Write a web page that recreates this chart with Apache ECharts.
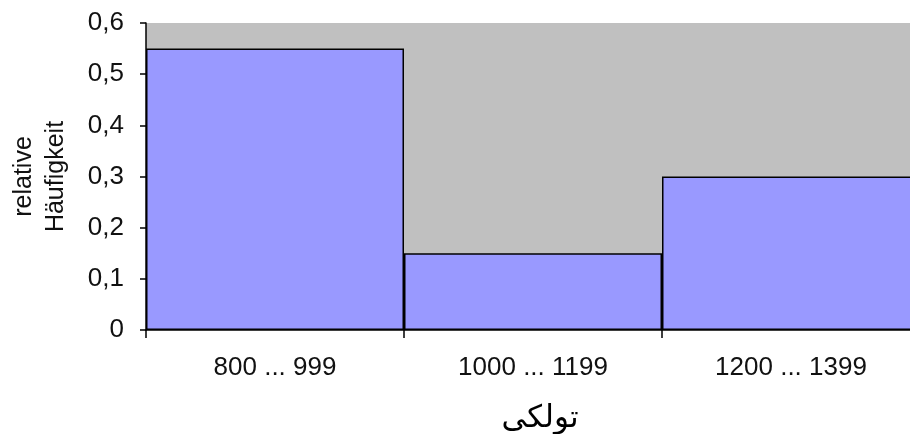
<!DOCTYPE html>
<html>
<head>
<meta charset="utf-8">
<script src="https://cdn.jsdelivr.net/npm/echarts@6/dist/echarts.min.js"></script>
<style>
  html, body { margin: 0; padding: 0; background: #ffffff; }
  #chart { width: 910px; height: 434px; }
</style>
</head>
<body>
<div id="chart"></div>
<script>
// Class intervals and their relative frequencies
const categories = ['800 ... 999', '1000 ... 1199', '1200 ... 1399'];
const relativeFrequency = [0.55, 0.15, 0.3];
const yTicks = { min: 0, max: 0.6, interval: 0.1 };

const labelFont = "'Liberation Sans', Arial, sans-serif";

const chart = echarts.init(document.getElementById('chart'));
chart.setOption({
  animation: false,
  backgroundColor: '#ffffff',
  grid: {
    left: 146, top: 23, width: 774, height: 307,
    outerBoundsMode: 'none',
    containLabel: false,
    show: true, backgroundColor: '#C0C0C0', borderWidth: 0
  },
  xAxis: {
    type: 'category',
    data: categories,
    boundaryGap: true,
    axisLine: { show: true, lineStyle: { color: '#000', width: 1.5 } },
    axisTick: { show: true, length: 8, lineStyle: { color: '#000', width: 1.5 } },
    axisLabel: {
      margin: 25, fontSize: 26, color: '#111', fontFamily: labelFont
    },
    name: 'تولکی',
    nameLocation: 'middle',
    nameGap: 73,
    nameTextStyle: {
      fontSize: 31, color: '#000',
      fontFamily: "'DejaVu Sans', serif",
      padding: [0, 0, 0, 14]
    },
    splitLine: { show: false }
  },
  yAxis: {
    type: 'value',
    min: yTicks.min, max: yTicks.max, interval: yTicks.interval,
    axisLine: { show: true, lineStyle: { color: '#000', width: 1.5 } },
    axisTick: { show: true, length: 6, lineStyle: { color: '#000', width: 1.5 } },
    axisLabel: {
      margin: 22, fontSize: 26, color: '#111', fontFamily: labelFont,
      formatter: v => v === 0 ? '0' : v.toFixed(1).replace('.', ',')
    },
    splitLine: { show: false },
    name: 'relative\nHäufigkeit',
    nameLocation: 'middle',
    nameRotate: 90,
    nameGap: 74,
    nameTextStyle: {
      fontSize: 25, color: '#111', fontFamily: labelFont, lineHeight: 32
    }
  },
  series: [{
    type: 'bar',
    data: relativeFrequency,
    barWidth: '100%',
    barCategoryGap: '0%',
    itemStyle: { color: '#9999FF', borderColor: '#000', borderWidth: 1.5 }
  }]
});
</script>
</body>
</html>
